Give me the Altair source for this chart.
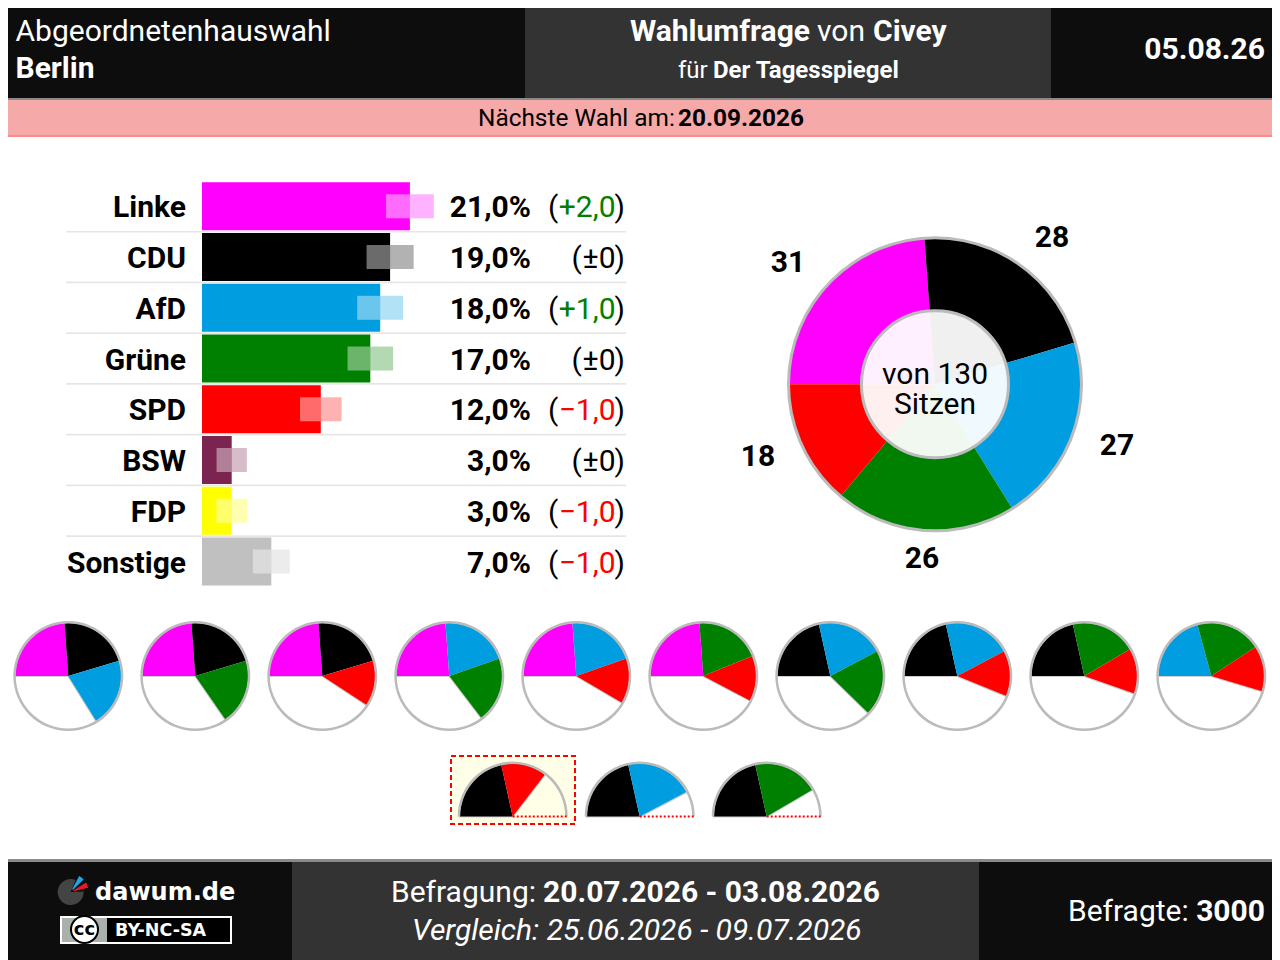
import math
import altair as alt
import pandas as pd

# ---------- values ----------
parties = ["Linke", "CDU", "AfD", "Grüne", "SPD", "BSW", "FDP", "Sonstige"]
percent = [21, 19, 18, 17, 12, 3, 3, 7]
change = [2, 0, 1, 0, -1, 0, -1, -1]
margin = [2.42, 2.38, 2.32, 2.3, 2.1, 1.53, 1.55, 1.87]
colours = ["#ff00ff", "#000000", "#009ee0", "#008000", "#ff0000", "#7b2450", "#ffff00", "#c0c0c0"]
seat_parties = ["Linke", "CDU", "AfD", "Grüne", "SPD"]
seats = [31, 28, 27, 26, 18]
total_seats = 130
coalitions_full = [
    ["Linke", "CDU", "AfD"], ["Linke", "CDU", "Grüne"], ["Linke", "CDU", "SPD"],
    ["Linke", "AfD", "Grüne"], ["Linke", "AfD", "SPD"], ["Linke", "Grüne", "SPD"],
    ["CDU", "AfD", "Grüne"], ["CDU", "AfD", "SPD"], ["CDU", "Grüne", "SPD"],
    ["AfD", "Grüne", "SPD"],
]
coalitions_half = [["CDU", "SPD"], ["CDU", "AfD"], ["CDU", "Grüne"]]

W = 1264
FONT = "Roboto"
DARK, MID = "#0d0d0d", "#333333"
RING = "#bbbbbb"
TWO_PI = 2 * math.pi

seat_map = dict(zip(seat_parties, seats))
one = pd.DataFrame({"k": [0]})
party_scale = alt.Scale(domain=parties + ["rest"], range=colours + ["transparent"])
party_colour = alt.Color("party:N", scale=party_scale, legend=None)


def text(s, x, y, org, size=30, weight="normal", align="left", color="#000000", font=FONT, style="normal"):
    return alt.Chart(one).mark_text(
        align=align, baseline="alphabetic", font=font, fontSize=size,
        fontWeight=weight, color=color, fontStyle=style,
    ).encode(x=alt.value(x - 8), y=alt.value(y - org), text=alt.value(s))


def rect(x1, x2, y1, y2, org, color):
    x1, x2 = max(x1, 8), min(x2, 8 + W)
    y1 = max(y1, 8)
    return alt.Chart(one).mark_rect(color=color).encode(
        x=alt.value(x1 - 8), x2=alt.value(x2 - 8), y=alt.value(y1 - org), y2=alt.value(y2 - org))


# ---------- header ----------
o = 8
top = alt.layer(
    rect(0, 525, 0, 98, o, DARK), rect(525, 1051, 0, 98, o, MID), rect(1051, 1280, 0, 98, o, DARK),
    rect(0, 1280, 98, 100, o, "#8a8a8a"), rect(0, 1280, 100, 135, o, "#f6a9a9"), rect(0, 1280, 135, 137, o, "#fb8a8a"),
    text("Abgeordnetenhauswahl", 15.5, 41, o, 30, color="white"),
    text("Berlin", 15.5, 78, o, 30, "bold", color="white"),
    text("Wahlumfrage", 630, 41, o, 30, "bold", color="white"),
    text("von", 817, 41, o, 30, color="white"),
    text("Civey", 873, 41, o, 30, "bold", color="white"),
    text("für", 678, 78, o, 24, color="white"),
    text("Der Tagesspiegel", 713, 78, o, 24, "bold", color="white"),
    text("05.08.26", 1265, 59, o, 30, "bold", "right", "white"),
    text("Nächste Wahl am:", 478, 126, o, 24.4),
    text("20.09.2026", 678, 126, o, 24.4, "bold"),
).properties(width=W, height=129)

# ---------- bars ----------
o = 137
rows = pd.DataFrame({"party": parties, "pct": percent, "chg": change, "moe": margin})
rows["low"] = rows.pct - rows.moe
rows["high"] = rows.pct + rows.moe
rows["label"] = [f"{p},0%" for p in percent]
rows["chg_txt"] = ["±0" if c == 0 else (f"+{c},0" if c > 0 else f"−{abs(c)},0") for c in change]
rows["sign"] = ["zero" if c == 0 else ("up" if c > 0 else "down") for c in change]

xs = alt.Scale(domain=[-194 / 9.9, (W - 194) / 9.9], nice=False, zero=False)
ys = alt.Scale(type="band", domain=parties, range=[43.9, 449.9], paddingInner=0.054, paddingOuter=0.027)
X = alt.X("pct:Q", scale=xs, axis=None)
Y = alt.Y("party:N", scale=ys, axis=None, sort=parties)
base = alt.Chart(rows)

bars = base.transform_calculate(zero="0").mark_bar().encode(x=alt.X("zero:Q", scale=xs, axis=None), x2="pct:Q", y=Y, color=party_colour)
ghost_in = base.mark_bar(height=24, color="white", opacity=0.42).encode(x=alt.X("low:Q", scale=xs, axis=None), x2="pct:Q", y=Y)
ghost_out = base.mark_bar(height=24, opacity=0.3).encode(x=X, x2="high:Q", y=Y, color=party_colour)
seps = base.transform_filter("datum.party != 'Sonstige'").mark_rule(color="#e6e6e6", strokeWidth=1.6, yOffset=25.4).encode(
    x=alt.value(66 - 8), x2=alt.value(626 - 8), y=Y)

txt = dict(baseline="middle", font=FONT, fontSize=30, dy=2)
names = base.mark_text(align="right", fontWeight="bold", **txt).encode(x=alt.value(186 - 8), y=Y, text="party:N")
vals = base.mark_text(align="right", fontWeight="bold", **txt).encode(x=alt.value(531 - 8), y=Y, text="label:N")
close_p = base.mark_text(align="right", **txt).encode(x=alt.value(625 - 8), y=Y, text=alt.value(")"))
open_wide = base.transform_filter("datum.chg != 0").mark_text(align="left", **txt).encode(x=alt.value(548 - 8), y=Y, text=alt.value("("))
open_nar = base.transform_filter("datum.chg == 0").mark_text(align="left", **txt).encode(x=alt.value(571.5 - 8), y=Y, text=alt.value("("))
delta = base.mark_text(align="right", **txt).encode(
    x=alt.value(615.5 - 8), y=Y, text="chg_txt:N",
    color=alt.Color("sign:N", scale=alt.Scale(domain=["up", "zero", "down"], range=["#008000", "#000000", "#ff0000"]), legend=None),
)

# ---------- main donut ----------
CX, CY = 935 - 8, 384.3 - o
theta_full = alt.Scale(domain=[0, total_seats], range=[-math.pi / 2, 1.5 * math.pi])
dn = pd.DataFrame({"party": seat_parties, "seats": seats, "ord": range(len(seats))})
donut = alt.Chart(dn).transform_stack(stack="seats", as_=["a0", "a1"], sort=[alt.SortField("ord")], groupby=[]).mark_arc(radius=146).encode(
    x=alt.value(CX), y=alt.value(CY),
    theta=alt.Theta("a0:Q", scale=theta_full), theta2="a1:Q", color=party_colour,
)
ring = alt.Chart(one).mark_arc(innerRadius=145, radius=148, theta=0, theta2=TWO_PI, color=RING).encode(x=alt.value(CX), y=alt.value(CY))
hole = alt.Chart(one).mark_point(shape="circle", filled=True, fill="white", fillOpacity=0.94, stroke=RING, strokeWidth=3, strokeOpacity=1, opacity=1, size=(2 * 73.5) ** 2).encode(
    x=alt.value(CX), y=alt.value(CY))

seat_pos = [(788, 263), (1052, 238), (1117, 446), (922, 559), (758, 457)]
seat_txt = [
    alt.Chart(one).mark_text(align="center", baseline="middle", font=FONT, fontSize=30, fontWeight="bold").encode(
        x=alt.value(p[0] - 8), y=alt.value(p[1] - o), text=alt.value(str(s)))
    for s, p in zip(seats, seat_pos)
]

mid = alt.layer(
    seps, bars, ghost_in, ghost_out, names, vals, open_wide, open_nar, delta, close_p,
    donut, ring, hole, *seat_txt,
    text(f"von {total_seats}", 935, 384, o, 30, align="center"),
    text("Sitzen", 935, 414, o, 30, align="center"),
).resolve_scale(color="independent").properties(width=W, height=468)


# ---------- coalition pies ----------
def pie_table(groups, whole):
    rec = []
    for i, g in enumerate(groups):
        for j, p in enumerate(g):
            rec.append({"pie": i, "party": p, "seats": seat_map[p], "ord": j})
        rec.append({"pie": i, "party": "rest", "seats": whole - sum(seat_map[p] for p in g), "ord": 9})
    return pd.DataFrame(rec)


def pies(groups, whole, px_range, cy, sweep):
    sx = alt.Scale(domain=[0, len(groups) - 1], range=px_range, nice=False, zero=False)
    PX = alt.X("pie:Q", scale=sx, axis=None, stack=None)
    data = alt.Chart(pie_table(groups, whole)).transform_stack(
        stack="seats", as_=["a0", "a1"], sort=[alt.SortField("ord")], groupby=["pie"])
    # 360 degrees are the whole parliament in both rows
    th = alt.Theta("a0:Q", scale=theta_full)
    slices = data.mark_arc(radius=53).encode(x=PX, y=alt.value(cy), theta=th, theta2="a1:Q", color=party_colour)
    # radial hairlines where the filled part ends and starts
    end_line = data.transform_filter("datum.party == 'rest'").transform_calculate(t2="datum.a0 + 0.05").mark_arc(
        radius=53, stroke="#cccccc", strokeWidth=2, color="#cccccc").encode(x=PX, y=alt.value(cy), theta=th, theta2="t2:Q")
    start_line = alt.Chart(pd.DataFrame({"pie": range(len(groups))})).transform_calculate(t1="0", t2="0.05").mark_arc(
        radius=53, stroke=RING, strokeWidth=2, color=RING, opacity=0.7).encode(
        x=PX, y=alt.value(cy), theta=alt.Theta("t1:Q", scale=theta_full), theta2="t2:Q")
    rim = alt.Chart(pd.DataFrame({"pie": range(len(groups))})).mark_arc(
        innerRadius=52.5, radius=55, theta=1.5 * math.pi, theta2=1.5 * math.pi + sweep, color=RING).encode(x=PX, y=alt.value(cy))
    return [start_line, end_line, slices, rim], sx


o = 605
layers1, _ = pies(coalitions_full, total_seats, [68.3 - 8, 1211.3 - 8], 676 - o, TWO_PI)
row1 = alt.layer(*layers1).properties(width=W, height=140)

o = 745
half_cy = 816.5 - o
layers2, sx2 = pies(coalitions_half, total_seats // 2, [512.7 - 8, 766.7 - 8], half_cy, math.pi)
box = alt.Chart(one).mark_rect(fill="#ffffe8", stroke="#ff0000", strokeWidth=2, strokeDash=[5, 3]).encode(
    x=alt.value(451 - 8), x2=alt.value(575 - 8), y=alt.value(756 - o), y2=alt.value(824 - o))
dots = alt.Chart(pd.DataFrame({"pie": range(3)})).transform_calculate(e="datum.pie + 0.43").mark_rule(
    color="#ff0000", strokeWidth=2, strokeDash=[2, 2]).encode(
    x=alt.X("pie:Q", scale=sx2, axis=None), x2="e:Q", y=alt.value(half_cy))
row2 = alt.layer(box, *layers2, dots).properties(width=W, height=114)

# ---------- footer ----------
o = 859
LX, LY = 70.7 - 8, 892 - o


def logo_arc(a, b, r, c, inner=0):
    return alt.Chart(one).mark_arc(innerRadius=inner, radius=r, theta=math.radians(a), theta2=math.radians(b), color=c).encode(
        x=alt.value(LX), y=alt.value(LY))


foot = alt.layer(
    rect(0, 1280, 859, 862, o, "#8a8a8a"),
    rect(0, 292, 862, 960, o, DARK), rect(292, 979, 862, 960, o, MID), rect(979, 1280, 862, 960, o, DARK),
    logo_arc(88, 382, 13, "#444444"),
    logo_arc(28, 46, 18, "#1aa6e8", 3),
    logo_arc(58, 76, 18, "#e8192c", 3),
    text("dawum.de", 95, 900, o, 24, "bold", color="white", font="DejaVu Sans"),
    rect(60, 232, 916, 944, o, "white"), rect(62, 230, 918, 942, o, "black"), rect(62, 107, 918, 942, o, "#aab0ab"),
    alt.Chart(one).mark_point(shape="circle", filled=True, fill="white", stroke="black", strokeWidth=2, opacity=1, size=(2 * 13.5) ** 2).encode(
        x=alt.value(84.5 - 8), y=alt.value(929.5 - o)),
    text("cc", 84.5, 935, o, 18, "bold", "center", font="DejaVu Sans"),
    text("BY-NC-SA", 115, 935.5, o, 17.5, "bold", color="white", font="DejaVu Sans"),
    text("Befragung:", 391, 902, o, 30, color="white"),
    text("20.07.2026 - 03.08.2026", 543, 902, o, 30, "bold", color="white"),
    text("Vergleich: 25.06.2026 - 09.07.2026", 412, 940, o, 30, color="white", style="italic"),
    text("Befragte:", 1068, 921, o, 30, color="white"),
    text("3000", 1265, 921, o, 30, "bold", "right", "white"),
).properties(width=W, height=101)

chart = alt.vconcat(top, mid, row1, row2, foot).properties(
    spacing=0, bounds="flush", padding=0, background="white",
).resolve_scale(color="independent", x="independent", y="independent", theta="independent").configure_view(stroke=None)

chart.save("out.html", embed_options={"renderer": "svg", "actions": False})
